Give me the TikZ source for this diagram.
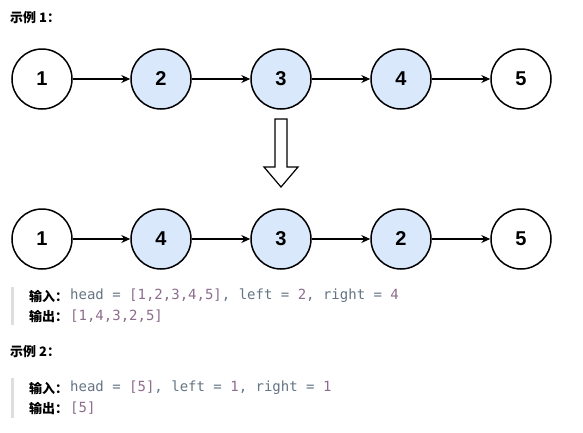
\documentclass[tikz,border=0pt]{standalone}
\usepackage{fontspec}
\setmainfont{Liberation Sans}
\setmonofont{DejaVu Sans Mono}
\newfontfamily\cjk{Noto Sans CJK SC}
\usepackage{tikz}
\usetikzlibrary{arrows.meta, positioning, calc}
\definecolor{nodeblue}{HTML}{DAE8FC}
\definecolor{keygrey}{RGB}{100,116,132}
\definecolor{valpurple}{RGB}{140,108,140}
\definecolor{bargrey}{RGB}{222,222,222}
\newcommand{\kw}[1]{\textcolor{keygrey}{#1}}
\newcommand{\vl}[1]{\textcolor{valpurple}{#1}}

\begin{document}
\begin{tikzpicture}[x=1pt, y=-1pt,
      listnode/.style={circle, draw=black, line width=1.5pt, fill=white,
      minimum size=60pt, inner sep=0pt, font=\fontsize{20pt}{20pt}\selectfont\bfseries},
      hinode/.style={listnode, fill=nodeblue},
      link/.style={-{Stealth[length=9pt,width=8pt]}, line width=1.3pt},
      heading/.style={anchor=west, inner sep=0pt, font=\cjk\fontsize{13pt}{15pt}\selectfont\bfseries},
      codeline/.style={anchor=west, inner sep=0pt, font=\fontsize{14pt}{16pt}\selectfont},
      quotebar/.style={line width=3pt, bargrey} ]
    \useasboundingbox (0,0) rectangle (583,432);

    % Example 1 heading
    \node[heading] (ex1) at (10,18) {示例 1：};

    % Original list
    \node[listnode] (a1) at (42,79) {1}; \node[hinode] (a2) at (161,79) {2};
    \node[hinode] (a3) at (281,79) {3}; \node[hinode] (a4) at (401,79) {4};
    \node[listnode] (a5) at (521,79) {5};
    \foreach \i/\j in {1/2,2/3,3/4,4/5} \draw[link] (a\i) -- (a\j);

    % Big hollow arrow
    \draw[line width=1.2pt, fill=white] (275,119) -- (287,119) -- (287,167)
    -- (298,167) -- (281,187) -- (264,167) -- (275,167) -- cycle;

    % Reversed list
    \node[listnode] (b1) at (42,239) {1}; \node[hinode] (b2) at (161,239) {4};
    \node[hinode] (b3) at (281,239) {3}; \node[hinode] (b4) at (401,239) {2};
    \node[listnode] (b5) at (521,239) {5};
    \foreach \i/\j in {1/2,2/3,3/4,4/5} \draw[link] (b\i) -- (b\j);

    % Example 1 input and output
    \draw[quotebar] (12,287) -- (12,325);
    \node[heading] (in1) at (29,296) {输入：};
    \node[codeline] (in1code) at (70,296) {\ttfamily\kw{head = }\vl{[1,2,3,4,5]}\kw{, left = }\vl{2}\kw{, right = }\vl{4}};
    \node[heading] (out1) at (29,316) {输出：};
    \node[codeline] (out1code) at (70,316) {\ttfamily\vl{[1,4,3,2,5]}};

    % Example 2
    \node[heading] (ex2) at (10,352) {示例 2：};
    \draw[quotebar] (12,378) -- (12,418);
    \node[heading] (in2) at (29,388) {输入：};
    \node[codeline] (in2code) at (70,388) {\ttfamily\kw{head = }\vl{[5]}\kw{, left = }\vl{1}\kw{, right = }\vl{1}};
    \node[heading] (out2) at (29,408) {输出：};
    \node[codeline] (out2code) at (70,408) {\ttfamily\vl{[5]}};

    \end{tikzpicture}
\end{document}
